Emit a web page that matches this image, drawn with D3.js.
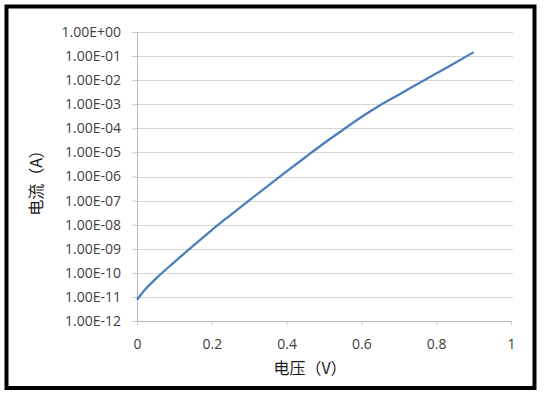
<!DOCTYPE html>
<html>
<head>
<meta charset="utf-8">
<script src="https://cdn.jsdelivr.net/npm/d3@7"></script>
<style>
  body { margin: 0; background: #fff; }
  text { font-family: "Open Sans", "Noto Sans", sans-serif; }
</style>
</head>
<body>
<script>
const voltage = [0, 0.02, 0.05, 0.1, 0.15, 0.2, 0.25, 0.3, 0.35, 0.4, 0.45,
                 0.5, 0.55, 0.6, 0.65, 0.7, 0.75, 0.8, 0.85, 0.9];
const current = [7.6e-12, 1.9e-11, 5.6e-11, 2.8e-10, 1.32e-9, 6.0e-9, 2.5e-8,
                 1.02e-7, 4.1e-7, 1.62e-6, 6.3e-6, 2.4e-5, 8.5e-5, 2.95e-4,
                 9.1e-4, 2.5e-3, 6.9e-3, 1.9e-2, 5.2e-2, 1.45e-1];
const xTicks = [0, 0.2, 0.4, 0.6, 0.8, 1];
const yTicks = [1e0, 1e-1, 1e-2, 1e-3, 1e-4, 1e-5, 1e-6, 1e-7, 1e-8, 1e-9, 1e-10, 1e-11, 1e-12];
const xTitle = "电压（V）";
const yTitle = "电流（A）";

let margin = null, width = null, height = null;
let svg = null, root = null;
let x, y = null;

setupCanvasSize();
appendSvg("body");
setupScales();
appendGrid();
appendAxes();
appendCurve();
appendTitles();

function setupCanvasSize() {
  margin = {top: 32, left: 137, bottom: 76, right: 33};
  width = 544 - margin.left - margin.right;
  height = 397 - margin.top - margin.bottom;
}

function appendSvg(domElement) {
  root = d3.select(domElement).append("svg")
    .attr("width", 544)
    .attr("height", 397);
  // black frame round the whole picture
  root.append("rect")
    .attr("x", 6.5).attr("y", 6.5)
    .attr("width", 528).attr("height", 381.5)
    .attr("fill", "none")
    .attr("stroke", "#000")
    .attr("stroke-width", 4);
  svg = root.append("g")
    .attr("transform", `translate(${margin.left}, ${margin.top})`);
}

function setupScales() {
  x = d3.scaleLinear().domain([0, 1]).range([0, width]);
  y = d3.scaleLog().domain([1e-12, 1]).range([height, 0]);
}

function fmtExp(d) {
  const e = Math.round(Math.log10(d));
  const sign = e < 0 ? "-" : "+";
  return "1.00E" + sign + String(Math.abs(e)).padStart(2, "0");
}

function appendGrid() {
  svg.append("g")
    .selectAll("line")
    .data(yTicks.filter(d => d !== 1e-12))
    .enter().append("line")
    .attr("x1", 0).attr("x2", width + 2)
    .attr("y1", d => Math.round(y(d)) + 0.5)
    .attr("y2", d => Math.round(y(d)) + 0.5)
    .attr("stroke", "#d4d4d4");
}

function appendAxes() {
  const gy = svg.append("g")
    .call(d3.axisLeft(y).tickValues(yTicks).tickFormat(fmtExp).tickSize(5).tickPadding(11));
  gy.select(".domain").attr("stroke", "#b8b8b8");
  gy.selectAll(".tick line").attr("stroke", "#c8c8c8");
  gy.selectAll(".tick text")
    .attr("fill", "#404040")
    .style("font-size", "14px");

  const gx = svg.append("g")
    .attr("transform", `translate(0, ${height})`)
    .call(d3.axisBottom(x).tickValues(xTicks).tickFormat(d3.format("")).tickSize(4).tickPadding(14));
  gx.select(".domain").attr("stroke", "#b8b8b8");
  gx.selectAll(".tick line").attr("stroke", "#c8c8c8");
  gx.selectAll(".tick text")
    .attr("fill", "#404040")
    .style("font-size", "14px");
}

function appendCurve() {
  const pts = voltage.map((v, i) => [v, current[i]]);
  const line = d3.line()
    .x(d => x(d[0]))
    .y(d => y(d[1]))
    .curve(d3.curveMonotoneX);
  svg.append("path")
    .datum(pts)
    .attr("d", line)
    .attr("fill", "none")
    .attr("stroke", "#4a7ebb")
    .attr("stroke-width", 2.25);
}

function appendTitles() {
  root.append("text")
    .attr("x", 310).attr("y", 374)
    .attr("text-anchor", "middle")
    .style("font-family", "'Noto Sans CJK SC', sans-serif")
    .style("font-size", "16px")
    .attr("fill", "#1a1a1a")
    .text(xTitle);
  root.append("text")
    .attr("transform", "translate(42, 179) rotate(-90)")
    .attr("text-anchor", "middle")
    .style("font-family", "'Noto Sans CJK SC', sans-serif")
    .style("font-size", "16px")
    .attr("fill", "#1a1a1a")
    .text(yTitle);
}
</script>
</body>
</html>
